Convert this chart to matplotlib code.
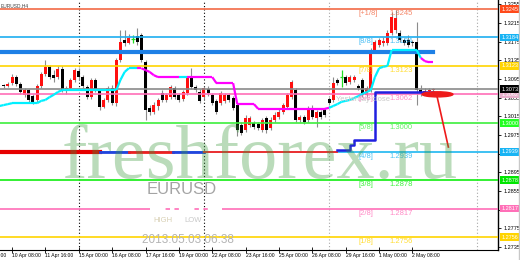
import numpy as np
import matplotlib
matplotlib.use("Agg")
import matplotlib.pyplot as plt
import matplotlib.transforms as mtransforms
from matplotlib.collections import LineCollection
from matplotlib.patches import Ellipse

plt.rcParams['font.family'] = ['Liberation Sans', 'DejaVu Sans']

# EURUSD H4 candles, bar index 0 = 10 Apr 08:00
first_bar = -2
opens = [1.3082, 1.3080, 1.3086, 1.3099, 1.3084, 1.3061, 1.3071, 1.3058, 1.3050, 1.3080,
         1.3106, 1.3121, 1.3103, 1.3099, 1.3116, 1.3069, 1.3076, 1.3093, 1.3112, 1.3099,
         1.3078, 1.3056, 1.3093, 1.3069, 1.3035, 1.3050, 1.3076, 1.3043, 1.3136, 1.3178,
         1.3172, 1.3181, 1.3187, 1.3189, 1.3131, 1.3033, 1.3024, 1.3037, 1.3065, 1.3050,
         1.3056, 1.3076, 1.3061, 1.3052, 1.3065, 1.3097, 1.3078, 1.3067, 1.3056, 1.3073,
         1.3061, 1.3048, 1.3043, 1.3048, 1.3061, 1.3054, 1.3039, 1.2996, 1.2985, 1.2996,
         1.3000, 1.2998, 1.2985, 1.3011, 1.2990, 1.3007, 1.3013, 1.3024, 1.3035, 1.3056,
         1.3071, 1.3007, 1.3013, 1.3007, 1.3033, 1.3011, 1.3024, 1.3028, 1.3052, 1.3050,
         1.3093, 1.3099, 1.3099, 1.3088, 1.3093, 1.3080, 1.3093, 1.3061, 1.3071, 1.3157,
         1.3168, 1.3172, 1.3172, 1.3194, 1.3200, 1.3194, 1.3178, 1.3178, 1.3174, 1.3174,
         1.3071, 1.3067, 1.3069, 1.3071]
closes = [1.3080, 1.3084, 1.3099, 1.3084, 1.3067, 1.3071, 1.3050, 1.3046, 1.3080, 1.3106,
          1.3121, 1.3099, 1.3097, 1.3116, 1.3071, 1.3076, 1.3093, 1.3114, 1.3099, 1.3080,
          1.3056, 1.3093, 1.3071, 1.3035, 1.3050, 1.3076, 1.3043, 1.3136, 1.3174, 1.3172,
          1.3183, 1.3181, 1.3174, 1.3136, 1.3028, 1.3024, 1.3039, 1.3050, 1.3050, 1.3061,
          1.3078, 1.3056, 1.3050, 1.3067, 1.3097, 1.3078, 1.3071, 1.3048, 1.3076, 1.3065,
          1.3043, 1.3024, 1.3065, 1.3061, 1.3050, 1.3033, 1.2985, 1.2979, 1.3011, 1.3011,
          1.2992, 1.2990, 1.3007, 1.2985, 1.3007, 1.3018, 1.3024, 1.3039, 1.3061, 1.3088,
          1.3007, 1.3013, 1.3003, 1.3033, 1.3013, 1.3024, 1.3013, 1.3018, 1.3043, 1.3086,
          1.3086, 1.3099, 1.3086, 1.3099, 1.3099, 1.3076, 1.3061, 1.3076, 1.3157, 1.3174,
          1.3178, 1.3176, 1.3194, 1.3228, 1.3226, 1.3178, 1.3172, 1.3168, 1.3172, 1.3071,
          1.3067, 1.3069, 1.3071, 1.3073]
highs = [1.3084, 1.3088, 1.3106, 1.3103, 1.3088, 1.3076, 1.3073, 1.3063, 1.3084, 1.3110,
         1.3136, 1.3125, 1.3114, 1.3123, 1.3123, 1.3080, 1.3097, 1.3118, 1.3118, 1.3103,
         1.3082, 1.3097, 1.3097, 1.3073, 1.3054, 1.3080, 1.3082, 1.3140, 1.3200, 1.3200,
         1.3191, 1.3189, 1.3204, 1.3194, 1.3136, 1.3039, 1.3046, 1.3054, 1.3071, 1.3065,
         1.3082, 1.3080, 1.3065, 1.3071, 1.3101, 1.3118, 1.3082, 1.3073, 1.3080, 1.3080,
         1.3065, 1.3052, 1.3069, 1.3065, 1.3065, 1.3058, 1.3043, 1.3003, 1.3018, 1.3015,
         1.3005, 1.3003, 1.3011, 1.3015, 1.3013, 1.3024, 1.3031, 1.3043, 1.3065, 1.3093,
         1.3076, 1.3018, 1.3018, 1.3037, 1.3039, 1.3028, 1.3028, 1.3033, 1.3056, 1.3099,
         1.3097, 1.3114, 1.3103, 1.3103, 1.3103, 1.3084, 1.3097, 1.3080, 1.3161, 1.3178,
         1.3183, 1.3185, 1.3200, 1.3239, 1.3243, 1.3200, 1.3183, 1.3189, 1.3178, 1.3217,
         1.3082, 1.3076, 1.3076, 1.3076]
lows = [1.3076, 1.3078, 1.3082, 1.3080, 1.3063, 1.3056, 1.3046, 1.3041, 1.3046, 1.3076,
        1.3101, 1.3095, 1.3088, 1.3095, 1.3067, 1.3063, 1.3071, 1.3088, 1.3093, 1.3076,
        1.3052, 1.3052, 1.3067, 1.3028, 1.3033, 1.3046, 1.3039, 1.3037, 1.3131, 1.3166,
        1.3170, 1.3172, 1.3168, 1.3131, 1.3007, 1.3018, 1.3020, 1.3028, 1.3046, 1.3046,
        1.3052, 1.3052, 1.3046, 1.3048, 1.3061, 1.3073, 1.3067, 1.3043, 1.3052, 1.3058,
        1.3039, 1.3020, 1.3039, 1.3043, 1.3046, 1.3028, 1.2973, 1.2975, 1.2981, 1.2992,
        1.2988, 1.2985, 1.2981, 1.2979, 1.2985, 1.3003, 1.3009, 1.3020, 1.3031, 1.3052,
        1.3003, 1.3003, 1.2998, 1.3003, 1.3009, 1.2992, 1.3009, 1.3013, 1.3039, 1.3046,
        1.3082, 1.3078, 1.3082, 1.3084, 1.3088, 1.3071, 1.3056, 1.3056, 1.3067, 1.3153,
        1.3163, 1.3166, 1.3168, 1.3189, 1.3194, 1.3174, 1.3168, 1.3163, 1.3166, 1.3039,
        1.3058, 1.3063, 1.3065, 1.3067]

# trailing stop line (cyan = up, magenta = down), bar index -3 .. 101
trail_first = -3
trail_values = [1.3037, 1.3039, 1.3041, 1.3043, 1.3043, 1.3043, 1.3043, 1.3043, 1.3043, 1.3043,
                1.3048, 1.3050, 1.3056, 1.3061, 1.3067, 1.3071, 1.3071, 1.3071, 1.3071, 1.3071,
                1.3071, 1.3071, 1.3071, 1.3071, 1.3071, 1.3071, 1.3071, 1.3071, 1.3071, 1.3093,
                1.3110, 1.3118, 1.3118, 1.3118, 1.3118, 1.3114, 1.3110, 1.3103, 1.3099, 1.3099,
                1.3099, 1.3099, 1.3099, 1.3099, 1.3099, 1.3099, 1.3099, 1.3099, 1.3099, 1.3099,
                1.3099, 1.3099, 1.3086, 1.3086, 1.3086, 1.3086, 1.3086, 1.3041, 1.3041, 1.3041,
                1.3041, 1.3041, 1.3031, 1.3031, 1.3031, 1.3031, 1.3031, 1.3031, 1.3031, 1.3031,
                1.3031, 1.3031, 1.3031, 1.3031, 1.3031, 1.3031, 1.3031, 1.3031, 1.3031, 1.3033,
                1.3037, 1.3041, 1.3046, 1.3048, 1.3050, 1.3054, 1.3058, 1.3063, 1.3067, 1.3071,
                1.3099, 1.3118, 1.3121, 1.3123, 1.3157, 1.3157, 1.3157, 1.3157, 1.3157, 1.3157,
                1.3157, 1.3140, 1.3133, 1.3131, 1.3131]
trail_dir = ("uuuuuuuuuuuuuuuuuuuuuuuuuuuuuuuuuu"
             "dddddddddd" "uu" "dddddddddddddddddddddddddddddddddd"
             "uuuuuuuuuuuuuuuuuuuuuu" "dddd")

# Murrey math levels
mm_names = ["[+1/8]", "[8/8]", "[7/8]", "[6/8]", "[5/8]", "[4/8]", "[3/8]", "[2/8]", "[1/8]"]
mm_prices = [1.3245, 1.3184, 1.3123, 1.3062, 1.3000, 1.2939, 1.2878, 1.2817, 1.2756]
mm_colors = ["#f26a45", "#1eaef0", "#ffd400", "#ff6eb8", "#3cef3c", "#1eb6f0", "#10ee10", "#ff6eb8", "#ffd400"]
mm_box_colors = ["#ff4a1a", "#18b4f4", "#ffd400", "#e8b0cc", "#22ff22", "#18b4f4", "#00e600", "#ff70b8", "#ffd400"]

current_price = 1.3073
resist_level = 1.3153
resist_end = 101

# support line on the 4/8 level (left part)
sup_level = 1.2938
sup_starts = [-3, 21, 28, 38.6, 46]
sup_ends = [21, 28, 38.6, 46, 78]
sup_colors = ["#e60000", "#2244dd", "#ee2020", "#2244dd", "#ee3030"]
sup_widths = [3, 2, 2, 2, 1.4]

# stepped support (right part)
step_bars = [78, 79, 80, 81, 82, 83, 84, 85, 86, 87, 88, 89, 90, 91, 92, 93, 94, 95, 96, 97, 98, 99, 100, 101]
step_values = [1.2943, 1.2943, 1.2943, 1.2953, 1.2964, 1.2964, 1.2964, 1.2964, 1.2964, 1.3067,
               1.3067, 1.3067, 1.3067, 1.3067, 1.3067, 1.3067, 1.3067, 1.3067, 1.3067, 1.3067,
               1.3067, 1.3067, 1.3067, 1.3067]

# forecast arrow
fc_bars = [101.8, 104.6]
fc_prices = [1.3061, 1.2949]

week_bars = [16, 46]
other_bars = [76, 111.5]

tick_bars = [-8, 0, 8, 16, 24, 32, 40, 48, 56, 64, 72, 80, 88, 96]
tick_labels = ["9 Apr 00:00", "10 Apr 08:00", "11 Apr 16:00", "15 Apr 00:00", "16 Apr 08:00",
               "17 Apr 16:00", "19 Apr 00:00", "22 Apr 08:00", "23 Apr 16:00", "25 Apr 00:00",
               "26 Apr 08:00", "29 Apr 16:00", "1 May 00:00", "2 May 08:00"]
price_ticks = [1.2735, 1.2775, 1.2815, 1.2855, 1.2895, 1.2935, 1.2975, 1.3015,
               1.3055, 1.3095, 1.3135, 1.3175, 1.3215, 1.3255]


def draw_candles(ax):
    """Draw the OHLC bars, MT4 style (red = up, black = down, lime = doji)."""
    o = np.array(opens)
    c = np.array(closes)
    x = np.arange(first_bar, first_bar + len(o))
    up = c > o
    down = c < o
    doji = c == o
    ax.vlines(x[~doji], np.array(lows)[~doji], np.array(highs)[~doji],
              color='#8c8c8c', lw=0.8, zorder=2)
    ax.bar(x[up], (c - o)[up], bottom=o[up], width=0.72, color='#ff1010', lw=0, zorder=2.2)
    ax.bar(x[down], (c - o)[down], bottom=o[down], width=0.72, color='#000000', lw=0, zorder=2.2)
    ax.vlines(x[doji], np.array(lows)[doji], np.array(highs)[doji], color='#22dd22', lw=0.9, zorder=2.2)
    ax.hlines(c[doji], x[doji] - 0.4, x[doji] + 0.4, color='#22dd22', lw=0.9, zorder=2.2)


def draw_trail(ax):
    """Trailing line: cyan while trend is up, magenta while down."""
    xs = np.arange(trail_first, trail_first + len(trail_values))
    segs, cols = [], []
    for i in range(len(xs) - 1):
        segs.append([(xs[i], trail_values[i]), (xs[i + 1], trail_values[i + 1])])
        cols.append('#00f0ff' if trail_dir[i + 1] == 'u' else '#ff00ff')
    ax.add_collection(LineCollection(segs, colors=cols, linewidths=1.6, zorder=4))


def main():
    fig = plt.figure(figsize=(5.2, 2.6), dpi=100)
    ax = fig.add_axes([0, 10 / 260, 498 / 520, 250 / 260])
    ax.set_xlim(-2.88, 116.5)
    ax.set_ylim(1.27282, 1.32643)

    # period separators
    for b in week_bars:
        ax.axvline(b, color='black', lw=0.8, ls=(0, (1, 2)), zorder=1)
    for b in other_bars:
        ax.axvline(b, color='#a8a8a8', lw=0.8, ls=(0, (1, 2)), zorder=1)

    draw_candles(ax)

    # levels
    for p, col in zip(mm_prices, mm_colors):
        ax.axhline(p, color=col, lw=1.2, zorder=3)
    ax.axhline(current_price, color='#8a8a8a', lw=1.2, zorder=3)
    ax.plot([-3, resist_end], [resist_level, resist_level], color='#1e80e6', lw=3, zorder=3.5)
    for s, e, col, w in zip(sup_starts, sup_ends, sup_colors, sup_widths):
        ax.plot([s, e], [sup_level, sup_level], color=col, lw=w, zorder=3.5)
    ax.plot(step_bars, step_values, drawstyle='steps-post', color='#2020e0', lw=1.8, zorder=3.6)

    draw_trail(ax)

    # forecast marks
    ax.add_patch(Ellipse((102.0, 1.3062), 7.4, 0.0011, color='#ee1a1a', zorder=6))
    ax.plot(fc_bars, fc_prices, color='#ee1a1a', lw=1.2, zorder=6)

    # level labels on chart
    for name, p, col in zip(mm_names, mm_prices, mm_colors):
        ax.text(83, p - 0.00022, name, color=col, fontsize=5.5, va='top', ha='left', alpha=0.8, zorder=7)
        ax.text(90.4, p - 0.00022, f"{p:.4f}", color=col, fontsize=5.5, va='top', ha='left', alpha=0.8, zorder=7)
    ax.text(77.6, 1.3059, "Yesterday close", color='#c8c8c8', fontsize=5.5, va='top', ha='left', zorder=6.5)

    # right price axis
    ax.yaxis.tick_right()
    ax.set_yticks(price_ticks)
    ax.set_yticklabels([f"{v:.4f}" for v in price_ticks])
    ax.tick_params(axis='y', labelsize=4, length=2, pad=2, width=0.6)
    trans = mtransforms.blended_transform_factory(ax.transAxes, ax.transData)
    for p, col in zip(mm_prices, mm_box_colors):
        ax.text(1.007, p, f"{p:.4f}", transform=trans, fontsize=4, color='white', ha='left', va='center',
                bbox=dict(boxstyle='square,pad=0.25', fc=col, ec='none'), clip_on=False, zorder=10)
    ax.text(1.007, current_price, f"{current_price:.4f}", transform=trans, fontsize=4, color='white',
            ha='left', va='center', bbox=dict(boxstyle='square,pad=0.25', fc='black', ec='none'),
            clip_on=False, zorder=11)

    # time axis
    ax.set_xticks(tick_bars[1:])
    ax.set_xticklabels(tick_labels[1:], ha='left')
    ax.tick_params(axis='x', labelsize=3.6, length=4, direction='inout', pad=0.5, width=0.6)
    ax.text(tick_bars[0] + 0.3, -0.012, tick_labels[0], transform=mtransforms.blended_transform_factory(
        ax.transData, ax.transAxes), fontsize=3.6, ha='left', va='top', clip_on=False)

    for side in ['left', 'top']:
        ax.spines[side].set_visible(False)
    ax.spines['right'].set_linewidth(1)
    ax.spines['bottom'].set_linewidth(0.8)

    # watermark and info texts
    ax.text(0.1245, 0.288, "freshforex.ru", transform=ax.transAxes, fontsize=55, family='Liberation Serif',
            color='#3a9a3a', alpha=0.35, va='baseline', ha='left', zorder=20)
    ax.text(0.3655, 0.244, "EURUSD", transform=ax.transAxes, fontsize=12, color='#a4a4a4',
            ha='center', va='center', zorder=21)
    ax.plot([33.1, 50.4], [mm_prices[7], mm_prices[7]], color='white', lw=1.6, dashes=(7, 2, 2, 2), zorder=8)
    ax.text(0.307, 0.116, "HIGH", transform=ax.transAxes, fontsize=5.5, color='#d8d0b4', ha='left', va='center', zorder=21)
    ax.text(0.371, 0.116, "LOW", transform=ax.transAxes, fontsize=5.5, color='#c8c8c8', ha='left', va='center', zorder=21)
    ax.text(0.3765, 0.04, "2013.05.03 06:38", transform=ax.transAxes, fontsize=8.5, color='#b4b4b4',
            ha='center', va='center', zorder=21)
    ax.text(0.002, 0.985, "EURUSD,H4", transform=ax.transAxes, fontsize=3.5, color='#404040', va='top', zorder=21)

    fig.add_artist(plt.Line2D([518.5 / 520, 518.5 / 520], [0, 1], color='#c8c8c8', lw=1))
    fig.savefig("out.png", dpi=100)


if __name__ == "__main__":
    main()
